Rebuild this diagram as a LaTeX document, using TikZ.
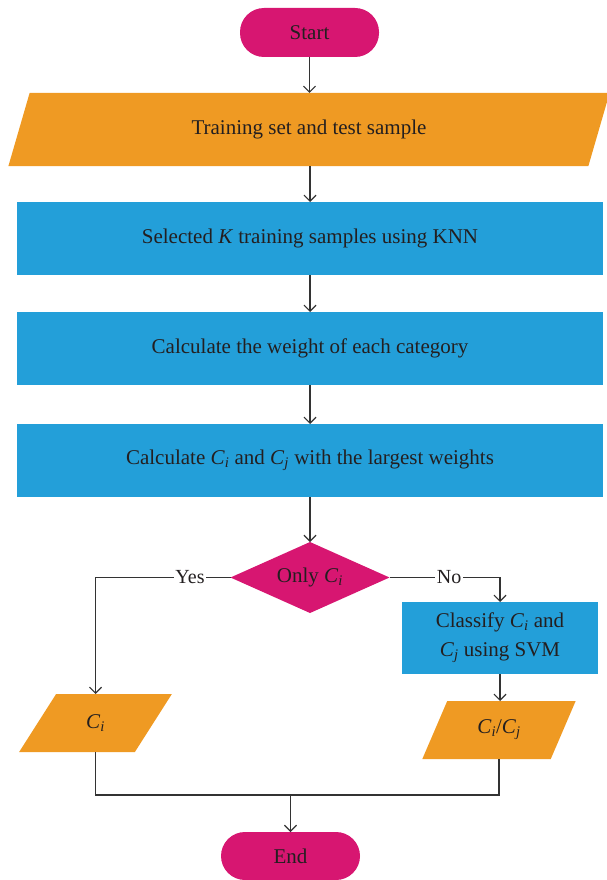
\documentclass[tikz,border=0pt]{standalone}
\usepackage{fontspec}
\setmainfont{Liberation Serif}
\usetikzlibrary{shapes.geometric,arrows.meta}
\definecolor{mag}{HTML}{D71671}
\definecolor{org}{HTML}{EF9A23}
\definecolor{blu}{HTML}{239FD9}
\definecolor{lin}{HTML}{333333}
\definecolor{txt}{HTML}{231F20}
\newcommand{\Cs}[1]{\textit{C}\textsubscript{\textit{#1}}}
\begin{document}
\begin{tikzpicture}[x=1pt,y=1pt,
  font=\fontsize{21}{29}\selectfont, text=txt,
  term/.style={rectangle, rounded corners=24pt, fill=mag, minimum width=139pt, minimum height=49pt, inner sep=0pt, outer sep=0pt},
  io/.style={trapezium, trapezium stretches=true, fill=org, inner sep=0pt, outer sep=0pt},
  proc/.style={rectangle, fill=blu, inner sep=0pt, outer sep=0pt},
  dec/.style={diamond, fill=mag, inner sep=0pt, outer sep=0pt, aspect=2.24},
  line/.style={draw=lin, line width=1.2pt},
  conn/.style={line, -{Straight Barb[length=6pt,width=12pt,line width=1.2pt]}},
  lab/.style={fill=white, inner sep=1.5pt, font=\fontsize{20}{24}\selectfont}
]
\useasboundingbox (0,0) rectangle (606,-880);

\node[term] (start) at (309.5,-32.5) {Start};
\node[io, trapezium left angle=65, trapezium right angle=115, minimum width=602pt, minimum height=73pt] (in) at (309,-129.5) {Training set and test sample};
\node[proc, minimum width=586pt, minimum height=73pt] (knn) at (310,-238.5) {Selected \textit{K} training samples using KNN};
\node[proc, minimum width=586pt, minimum height=73pt] (wt) at (310,-348.5) {Calculate the weight of each category};
\node[proc, minimum width=586pt, minimum height=73pt] (cc) at (310,-460.5) {Calculate \Cs{i} and \Cs{j} with the largest weights};
\node[dec, minimum width=159pt, minimum height=71pt] (dec) at (310,-577.5) {Only \Cs{i}};
\node[proc, minimum width=196pt, minimum height=72pt, align=center] (svm) at (500,-638) {Classify \Cs{i} and\\\Cs{j} using SVM};
\node[io, trapezium left angle=62.6, trapezium right angle=117.4, minimum width=153pt, minimum height=58pt] (ci) at (95.5,-723) {\Cs{i}};
\node[io, trapezium left angle=62.6, trapezium right angle=117.4, minimum width=154pt, minimum height=58pt] (cij) at (499,-730) {\Cs{i}/\Cs{j}};
\node[term, minimum height=48pt] (end) at (290.5,-856) {End};
\coordinate (join) at (290.5,-795);

\draw[conn] (start.south) -- (start.south |- in.north);
\draw[conn] (knn.north |- in.south) -- (knn.north);
\draw[conn] (knn.south) -- (wt.north);
\draw[conn] (wt.south) -- (cc.north);
\draw[conn] (cc.south) -- (dec.north);
\draw[conn] (dec.west) -| node[lab, pos=0.15] {Yes} (ci.north);
\draw[conn] (dec.east) -| node[lab, pos=0.27] {No} (svm.north);
\draw[conn] (svm.south) -- (svm.south |- cij.north);
\draw[line] (ci.south) |- (join) -| (cij.south);
\draw[conn] (join) -- (end.north);
\end{tikzpicture}
\end{document}
